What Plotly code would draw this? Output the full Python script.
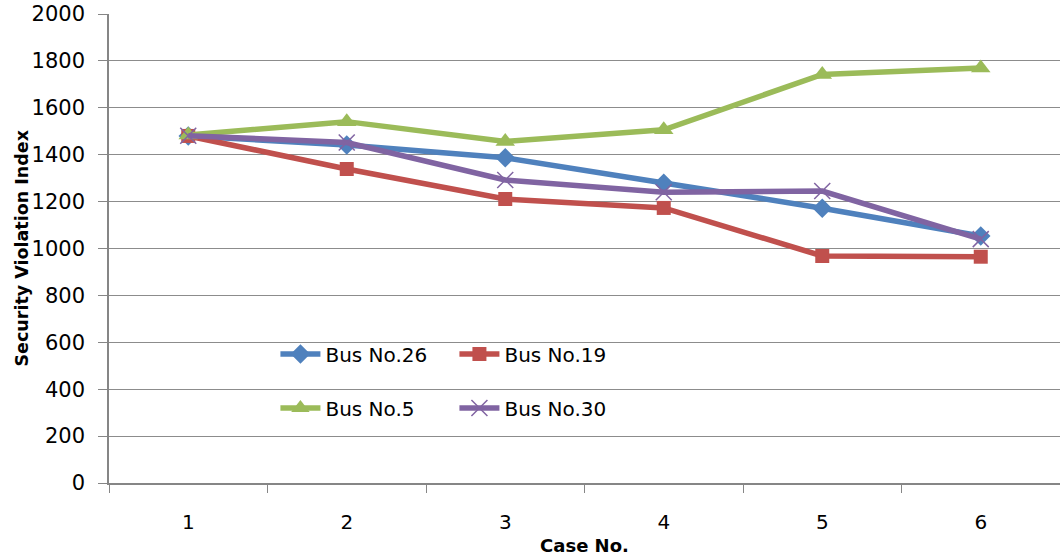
import plotly.graph_objects as go

cases = ["1", "2", "3", "4", "5", "6"]
bus26 = [1480, 1441, 1387, 1278, 1172, 1053]
bus19 = [1480, 1339, 1211, 1173, 968, 965]
bus5 = [1484, 1541, 1456, 1506, 1742, 1770]
bus30 = [1481, 1452, 1292, 1240, 1245, 1040]

names = ["Bus No.26", "Bus No.19", "Bus No.5", "Bus No.30"]
colors = ["#4F81BD", "#C0504D", "#9BBB59", "#8064A2"]

FONT = "DejaVu Sans"

fig = go.Figure()
fig.add_trace(go.Scatter(x=cases, y=bus26, name=names[0], mode="lines+markers",
                         line=dict(color=colors[0], width=5.5),
                         marker=dict(symbol="diamond", size=15, color=colors[0]),
                         legend="legend"))
fig.add_trace(go.Scatter(x=cases, y=bus19, name=names[1], mode="lines+markers",
                         line=dict(color=colors[1], width=5.5),
                         marker=dict(symbol="square", size=14, color=colors[1]),
                         legend="legend"))
fig.add_trace(go.Scatter(x=cases, y=bus5, name=names[2], mode="lines+markers",
                         line=dict(color=colors[2], width=5.5),
                         marker=dict(symbol="triangle-up", size=17, color=colors[2]),
                         legend="legend2"))
fig.add_trace(go.Scatter(x=cases, y=bus30, name=names[3], mode="lines+markers",
                         line=dict(color=colors[3], width=5.5),
                         marker=dict(symbol="x-thin-open", size=16,
                                     line=dict(color=colors[3], width=1.5)),
                         legend="legend2"))

leg_common = dict(orientation="h", xanchor="left", yanchor="middle",
                  bgcolor="rgba(0,0,0,0)", font=dict(family=FONT, size=20, color="black"),
                  entrywidth=124, entrywidthmode="pixels", itemwidth=40,
                  traceorder="normal")

fig.update_layout(
    width=1060, height=559,
    margin=dict(l=109, r=0, t=14, b=76, autoexpand=False),
    paper_bgcolor="white", plot_bgcolor="white",
    font=dict(family=FONT, size=20, color="black"),
    showlegend=True,
    legend=dict(x=0.175, y=0.275, **leg_common),
    legend2=dict(x=0.175, y=0.16, **leg_common),
    xaxis=dict(
        type="category", range=[-0.5, 5.5], tickson="boundaries", ticks="outside", ticklen=8,
        tickcolor="#868686", showline=True, linecolor="#868686", linewidth=1.5,
        showgrid=False, automargin=False,
        tickfont=dict(family=FONT, size=20, color="black"),
        ticklabelstandoff=20,
        title=dict(text="<b>Case No.</b>", font=dict(family=FONT, size=18, color="black"),
                   standoff=7),
    ),
    yaxis=dict(
        range=[0, 2000], tickmode="linear", tick0=0, dtick=200,
        ticks="outside", ticklen=9, tickcolor="#868686",
        showline=True, linecolor="#868686", linewidth=1.5,
        showgrid=True, gridcolor="#8c8c8c", gridwidth=1, zeroline=False,
        automargin=False,
        tickfont=dict(family=FONT, size=21, color="black"),
        ticklabelstandoff=9,
    ),
    annotations=[dict(text="<b>Security Violation Index</b>", textangle=-90,
                      xref="paper", yref="paper", x=-0.0925, y=0.5,
                      xanchor="center", yanchor="middle", showarrow=False,
                      font=dict(family=FONT, size=17.5, color="black"))],
    shapes=[dict(type="rect", xref="paper", yref="paper",
                 x0=0.163, x1=0.5436, y0=0.0917, y1=0.352,
                 fillcolor="white", line=dict(width=0), layer="between")],
)

fig.write_html("out.html", config={"displayModeBar": False},
               post_script="document.body.style.margin='0';document.body.style.overflow='hidden';")
